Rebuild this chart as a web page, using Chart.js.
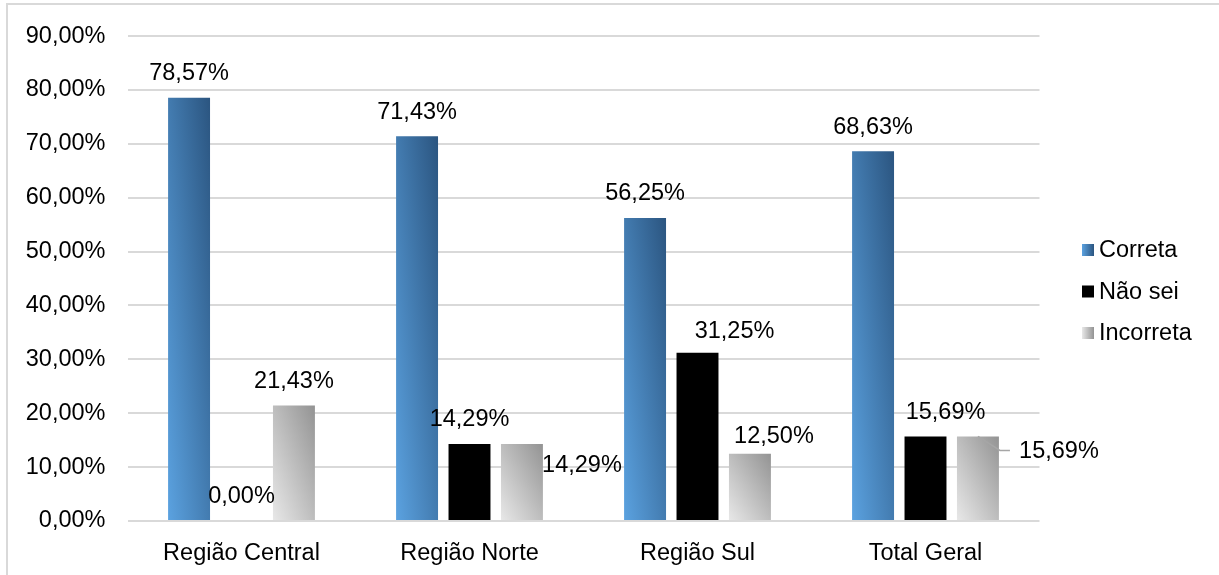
<!DOCTYPE html>
<html>
<head>
<meta charset="utf-8">
<title>Respostas por região</title>
<script src="https://cdn.jsdelivr.net/npm/chart.js@4.4.1/dist/chart.umd.min.js"></script>
<style>
  html, body { margin: 0; padding: 0; background: #fff; }
  #wrap { position: relative; width: 1219px; height: 575px; }
</style>
</head>
<body>
<div id="wrap"><canvas id="respostasChart"></canvas></div>
<script>
// Share of each answer type per region (%)
var regioes = ['Região Central', 'Região Norte', 'Região Sul', 'Total Geral'];
var correta = [78.57, 71.43, 56.25, 68.63];
var naoSei = [0.00, 14.29, 31.25, 15.69];
var incorreta = [21.43, 14.29, 12.50, 15.69];
var yTicks = [0, 10, 20, 30, 40, 50, 60, 70, 80, 90];

var FONT = 'Arial, "Liberation Sans", sans-serif';
var FONT_SIZE = 23.5;
var catPct = 0.69;
var barPct = 0.8;

function pct(v) {
    return v.toFixed(2).replace('.', ',') + '%';
}

// linear gradient stretched over a box: lightest at bottom-left, darkest at top-right
function boxGradient(c, x0, x1, top, bottom, light, dark) {
    var w = x1 - x0, h = bottom - top;
    var a = 1 / (2 * w), b = -1 / (2 * h);
    var n = a * a + b * b;
    var g = c.createLinearGradient(x0, bottom, x0 + a / n, bottom + b / n);
    g.addColorStop(0, light);
    g.addColorStop(1, dark);
    return g;
}

function barFill(light, dark) {
    return function (ctx) {
        var chart = ctx.chart;
        var xs = chart.scales.x, ys = chart.scales.y;
        if (!chart.chartArea || !xs || ctx.type !== 'data') return dark;
        var group = xs.width / regioes.length * catPct;
        var slot = group / 3;
        var barW = slot * barPct;
        var cx = xs.getPixelForValue(ctx.dataIndex) - group / 2 + slot * (ctx.datasetIndex + 0.5);
        var bottom = ys.getPixelForValue(0);
        var top = Math.min(ys.getPixelForValue(ctx.raw), bottom - 1);
        return boxGradient(chart.ctx, cx - barW / 2, cx + barW / 2, top, bottom, light, dark);
    };
}

var series = [
    { label: 'Correta', data: correta, light: '#5ba2e0', dark: '#2b5580' },
    { label: 'Não sei', data: naoSei, light: '#000000', dark: '#000000' },
    { label: 'Incorreta', data: incorreta, light: '#e8e8e8', dark: '#939393' }
];

// labels that don't sit straight above their bar: [dx, dy]
var labelShift = {
    '2-1': [60, 46],
    '1-2': [37, 3],
    '2-2': [24, 7],
    '1-3': [20, 0],
    '2-3': [81, 39]
};

var valueLabels = {
    id: 'valueLabels',
    afterDatasetsDraw: function (chart) {
        var c = chart.ctx;
        c.save();
        c.font = FONT_SIZE + 'px ' + FONT;
        c.fillStyle = '#000';
        c.textAlign = 'center';
        c.textBaseline = 'middle';
        chart.data.datasets.forEach(function (ds, di) {
            chart.getDatasetMeta(di).data.forEach(function (bar, i) {
                var s = labelShift[di + '-' + i] || [0, 0];
                if (di === 2 && i === 3) {
                    // leader line for the label pushed outside
                    c.strokeStyle = '#a6a6a6';
                    c.lineWidth = 1.5;
                    c.beginPath();
                    c.moveTo(bar.x, bar.y);
                    c.lineTo(bar.x + 22, bar.y + 14);
                    c.lineTo(bar.x + 32, bar.y + 14);
                    c.stroke();
                }
                c.fillText(pct(ds.data[i]), bar.x + s[0], bar.y - 24 + s[1]);
            });
        });
        c.restore();
    }
};

var sideLegend = {
    id: 'sideLegend',
    afterDraw: function (chart) {
        var c = chart.ctx;
        var x = 1082, y0 = 250, step = 41.5, box = 12;
        c.save();
        c.font = FONT_SIZE + 'px ' + FONT;
        c.textAlign = 'left';
        c.textBaseline = 'middle';
        series.forEach(function (s, i) {
            var y = y0 + i * step;
            var g = c.createLinearGradient(x, 0, x + box, 0);
            g.addColorStop(0, s.light);
            g.addColorStop(1, s.dark);
            c.fillStyle = g;
            c.fillRect(x, y - box / 2, box, box);
            c.fillStyle = '#000';
            c.fillText(s.label, x + box + 5, y + 1);
        });
        c.restore();
    }
};

var frame = {
    id: 'frame',
    beforeDraw: function (chart) {
        var c = chart.ctx;
        c.save();
        c.fillStyle = '#fff';
        c.fillRect(0, 0, chart.width, chart.height);
        c.strokeStyle = '#d9d9d9';
        c.lineWidth = 2;
        c.strokeRect(7, 4, chart.width + 20, chart.height + 20);
        c.restore();
    }
};

Chart.defaults.font.family = FONT;
Chart.defaults.font.size = FONT_SIZE;
Chart.defaults.color = '#000';

var ctx = document.getElementById('respostasChart').getContext('2d');
new Chart(ctx, {
    type: 'bar',
    data: {
        labels: regioes,
        datasets: series.map(function (s) {
            return {
                label: s.label,
                data: s.data,
                backgroundColor: barFill(s.light, s.dark),
                borderWidth: 0,
                categoryPercentage: catPct,
                barPercentage: barPct
            };
        })
    },
    options: {
        responsive: true,
        maintainAspectRatio: false,
        animation: false,
        events: [],
        layout: { padding: { top: 34, right: 179.5, left: 0, bottom: 0 } },
        plugins: {
            legend: { display: false },
            tooltip: { enabled: false }
        },
        scales: {
            x: {
                grid: { display: false },
                border: { display: false },
                ticks: { padding: 10, maxRotation: 0 },
                afterFit: function (s) { s.height = 54; }
            },
            y: {
                min: 0,
                max: 90,
                grid: { color: '#d9d9d9', lineWidth: 2, drawTicks: false },
                border: { display: false },
                ticks: { padding: 22, callback: function (v) { return pct(v); } },
                afterBuildTicks: function (s) {
                    s.ticks = yTicks.map(function (v) { return { value: v }; });
                },
                afterFit: function (s) { s.width = 127.5; }
            }
        }
    },
    plugins: [frame, valueLabels, sideLegend]
});
</script>
</body>
</html>
